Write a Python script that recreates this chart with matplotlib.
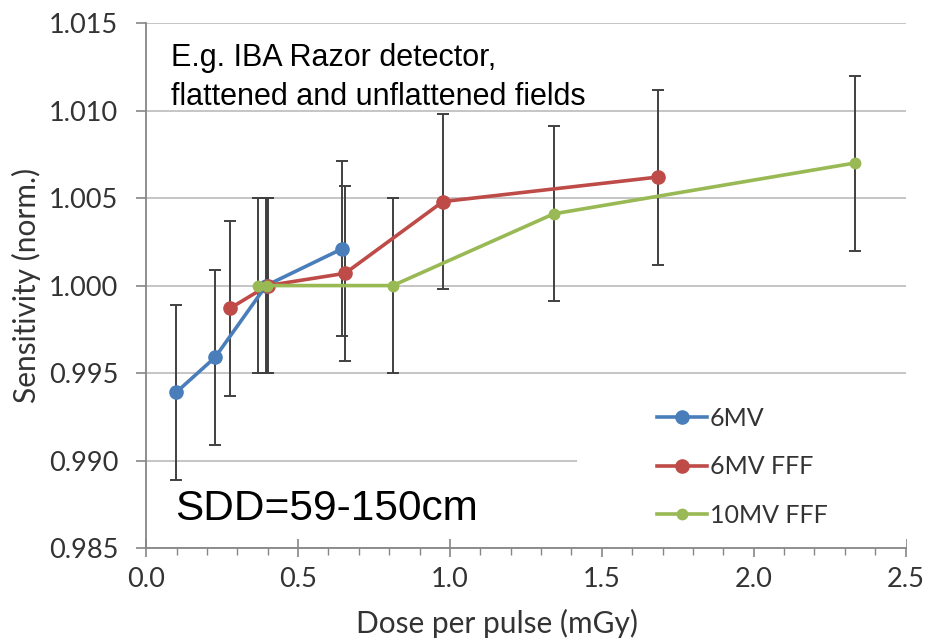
"""
Sensitivity of the IBA Razor detector versus dose per pulse,
for flattened (6MV) and unflattened (6MV FFF, 10MV FFF) beams.
"""

import matplotlib
matplotlib.use("Agg")
import matplotlib.pyplot as plt
from matplotlib.patches import Rectangle
from matplotlib.ticker import MultipleLocator, FormatStrFormatter

# =====================================================================
# 1. DATA
# =====================================================================
x_6mv = [0.099, 0.227, 0.395, 0.645]
y_6mv = [0.9939, 0.9959, 1.0000, 1.0021]

x_6mv_fff = [0.276, 0.400, 0.655, 0.977, 1.684]
y_6mv_fff = [0.9987, 1.0000, 1.0007, 1.0048, 1.0062]

x_10mv_fff = [0.368, 0.398, 0.812, 1.342, 2.332]
y_10mv_fff = [1.0000, 1.0000, 1.0000, 1.0041, 1.0070]

err = 0.005  # uncertainty on every point

series = [
    ("6MV", x_6mv, y_6mv, "#4A7EBB", 9.5),
    ("6MV FFF", x_6mv_fff, y_6mv_fff, "#BE4B48", 9.5),
    ("10MV FFF", x_10mv_fff, y_10mv_fff, "#98B954", 7.5),
]

# =====================================================================
# 2. PLOT
# =====================================================================
label_font = "Lato"
note_font = "Liberation Sans"
text_col = "#333333"
axis_col = "#868686"

fig = plt.figure(figsize=(9.25, 6.41), dpi=100)
ax = fig.add_axes([0.158, 0.145, 0.821, 0.819])

# error bars first, lines and markers on top
for name, xs, ys, col, ms in series:
    ax.errorbar(xs, ys, yerr=err, fmt="none", ecolor="#404040",
                elinewidth=1.4, capsize=4.5, capthick=1.4, zorder=2)

for name, xs, ys, col, ms in series:
    ax.plot(xs, ys, color=col, linewidth=2.6, marker="o", markersize=ms,
            label=name, zorder=3)

ax.set_xlim(0, 2.5)
ax.set_ylim(0.985, 1.015)
ax.xaxis.set_major_locator(MultipleLocator(0.5))
ax.xaxis.set_minor_locator(MultipleLocator(0.1))
ax.yaxis.set_major_locator(MultipleLocator(0.005))
ax.xaxis.set_major_formatter(FormatStrFormatter("%.1f"))
ax.yaxis.set_major_formatter(FormatStrFormatter("%.3f"))

ax.grid(axis="y", color="#C0C0C0", linewidth=1.3, zorder=0)
ax.set_axisbelow(True)

for side in ["top", "right"]:
    ax.spines[side].set_visible(False)
for side in ["left", "bottom"]:
    ax.spines[side].set_color(axis_col)
    ax.spines[side].set_linewidth(1.3)

ax.tick_params(axis="y", which="major", direction="out", length=7,
               width=1.2, color=axis_col, labelsize=19.5,
               labelcolor=text_col, pad=13)
ax.tick_params(axis="x", which="major", direction="inout", length=13,
               width=1.2, color=axis_col, labelsize=19.5,
               labelcolor=text_col, pad=7)
ax.tick_params(axis="x", which="minor", direction="out", length=5,
               width=1.0, color=axis_col)
for lab in ax.get_xticklabels() + ax.get_yticklabels():
    lab.set_fontfamily(label_font)

ax.set_xlabel("Dose per pulse (mGy)", fontsize=21.5, family=label_font,
              color=text_col)
ax.set_ylabel("Sensitivity (norm.)", fontsize=21.5, family=label_font,
              color=text_col)
ax.xaxis.set_label_coords(0.462, -0.116)
ax.yaxis.set_label_coords(-0.138, 0.5)

# white box behind the legend (hides the gridline there, like the original)
ax.add_patch(Rectangle((0.567, 0.0), 0.433, 0.32, transform=ax.transAxes,
                       facecolor="white", edgecolor="none", zorder=1))

leg = ax.legend(loc="upper left", bbox_to_anchor=(0.643, 0.312),
                frameon=False, handlelength=2.0, handletextpad=0.12,
                labelspacing=1.02, prop={"family": label_font, "size": 18})
for t in leg.get_texts():
    t.set_color(text_col)

ax.text(0.033, 0.962, "E.g. IBA Razor detector,\nflattened and unflattened fields",
        transform=ax.transAxes, ha="left", va="top", fontsize=22,
        family=note_font, color="black", linespacing=1.4, zorder=4)
ax.text(0.038, 0.053, "SDD=59-150cm", transform=ax.transAxes,
        ha="left", va="baseline", fontsize=30.5, family=note_font,
        color="black", zorder=4)

fig.savefig("out.png", dpi=100)
